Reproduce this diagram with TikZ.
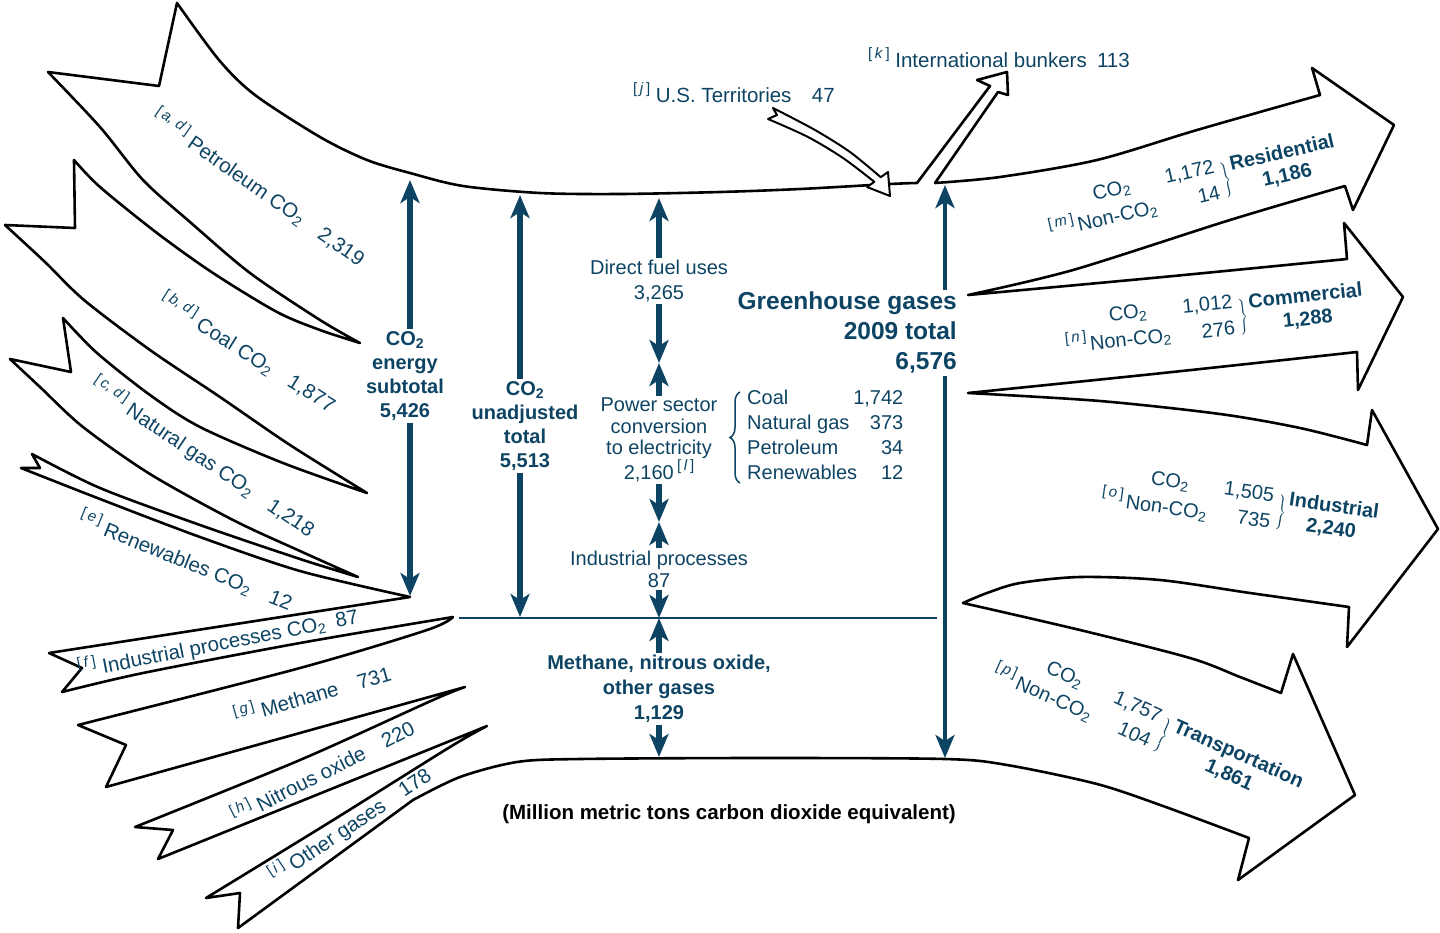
\documentclass[tikz,border=0pt]{standalone}
\usepackage{fontspec}
\setmainfont{Liberation Sans}
\usetikzlibrary{arrows.meta,decorations.pathreplacing}
\definecolor{ink}{HTML}{0E4463}
\newcommand\fn[1]{\raisebox{0.45em}{\fontsize{15}{15}\selectfont[\,\textit{#1}\,]}}
\newcommand\cotwo{CO\textsubscript{2}}
\newcommand\sectorlbl[5]{%
  \begin{tabular}{@{}r@{\hspace{3pt}}c@{\hspace{14pt}}r@{}}
    & \cotwo & #2\\
    \fn{#1} & Non-\cotwo & #3
  \end{tabular}%
  \hspace{4pt}{\fontsize{16}{20}\selectfont$\left.\rule[-13pt]{0pt}{32pt}\right\}$}\hspace{2pt}%
  \begin{tabular}{@{}c@{}}\bfseries #4\\ \bfseries #5\end{tabular}}
\begin{document}
\begin{tikzpicture}[x=1pt,y=-1pt,
  outline/.style={line width=2.6pt,line join=round,line cap=round,black},
  flowarrow/.style={line width=6.5pt,ink,-{Stealth[length=23pt,width=19pt,inset=6pt]}},
  ghgarrow/.style={line width=4.5pt,ink,-{Stealth[length=23pt,width=19pt,inset=6pt]}},
  lbl/.style={text=ink,inner sep=0pt,font=\fontsize{20.5}{24}\selectfont},
  blbl/.style={text=ink,inner sep=2pt,align=center,font=\fontsize{20}{24}\bfseries\selectfont},
  clbl/.style={text=ink,inner sep=2pt,align=center,font=\fontsize{20}{22}\selectfont},
  sec/.style={text=ink,inner sep=0pt,font=\fontsize{20}{23}\selectfont},
  sm/.style={smooth,tension=0.5}
]
\useasboundingbox (0,0) rectangle (1440,932);

% ---------- main flow outline ----------
\draw[outline] (48,72) -- (159,86) -- (177,3)
  -- plot[sm] coordinates {(177,3) (219,60) (255,95) (320,137) (367,160) (410,173) (463,186) (540,193) (620,194) (720,192) (800,189) (890,184) (917,183)}
  -- (990,86) -- (977,80) -- (1007,72) -- (1008,95) -- (998,92) -- (935,183)
  -- plot[sm] coordinates {(935,183) (1000,177) (1097,160) (1197,130) (1320,95)}
  -- (1312,68) -- (1394,125) -- (1353,210) -- (1345,186)
  -- plot[sm] coordinates {(1345,186) (1230,220) (1073,270) (968,295)}
  -- plot[sm] coordinates {(968,295) (1163,277) (1347,259)}
  -- (1344,223) -- (1403,297) -- (1358,390) -- (1357,352)
  -- plot[sm] coordinates {(1357,352) (1163,373) (968,393)}
  -- plot[sm] coordinates {(968,393) (1100,401) (1220,414) (1300,428) (1367,445)}
  -- (1372,410) -- (1438,529) -- (1347,647) -- (1349,607)
  -- plot[sm] coordinates {(1349,607) (1250,593) (1160,580) (1080,577) (1020,583) (987,593) (963,603)}
  -- plot[sm] coordinates {(963,603) (1080,630) (1190,658) (1240,677) (1281,693)}
  -- (1293,654) -- (1355,795) -- (1238,880) -- (1249,838)
  -- plot[sm] coordinates {(1249,838) (1163,806) (1097,784) (1007,765) (945,759) (760,758) (580,759) (517,762) (460,777) (413,800)}
  -- (238,928) -- (240,893) -- (206,898)
  -- plot[sm] coordinates {(206,898) (330,822) (450,747) (487,726)}
  -- (158,859) -- (173,830) -- (135,827)
  -- plot[sm] coordinates {(135,827) (300,760) (433,700) (465,687)}
  -- (106,787) -- (126,745) -- (78,725)
  -- plot[sm] coordinates {(78,725) (300,668) (427,630) (453,617)}
  -- plot[sm] coordinates {(453,617) (300,643) (143,673) (62,692)}
  -- (82,668) -- (49,653) -- (410,597)
  -- plot[sm] coordinates {(410,597) (300,571) (200,537) (100,499) (21,468)}
  -- (40,468) -- (32,454)
  -- plot[sm] coordinates {(32,454) (100,488) (200,525) (300,559) (358,577)}
  -- plot[sm] coordinates {(358,577) (300,551) (233,520) (150,474) (83,427) (40,387) (10,359)}
  -- (71,372) -- (63,318)
  -- plot[sm] coordinates {(63,318) (97,353) (150,395) (200,427) (283,463) (367,493)}
  -- plot[sm] coordinates {(367,493) (290,445) (220,397) (150,350) (84,300) (45,262) (5,225)}
  -- (75,228) -- (74,160)
  -- plot[sm] coordinates {(74,160) (100,187) (157,233) (213,273) (277,312) (320,330) (360,343)}
  -- plot[sm] coordinates {(360,343) (320,320) (250,273) (190,222) (143,180) (100,127) (48,72)}
  -- cycle;

% U.S. Territories hollow arrow
\draw[line width=2pt,line join=round,fill=white]
  plot[sm] coordinates {(773,108) (815,130) (850,152) (880.7,177.2)}
  -- (888,172) -- (890,196) -- (867,187) -- (874.3,181.8)
  -- plot[sm] coordinates {(874.3,181.8) (843,158) (808,137) (768,119)}
  -- (777,115) -- cycle;

% ---------- labels on input arrows ----------
\node[lbl,rotate=-35] (pet) at (259,187) {\fn{a, d} Petroleum \cotwo\quad 2,319};
\node[lbl,rotate=-32] (coal) at (248,352) {\fn{b, d} Coal \cotwo\quad 1,877};
\node[lbl,rotate=-34] (ng) at (203,457) {\fn{c, d} Natural gas \cotwo\quad 1,218};
\node[lbl,rotate=-22] (ren) at (186,560) {\fn{e} Renewables \cotwo\quad 12};
\node[lbl,rotate=11] (ipc) at (218,643) {\fn{f} Industrial processes \cotwo\enspace 87};
\node[lbl,rotate=16] (mth) at (312,693) {\fn{g} Methane\quad 731};
\node[lbl,rotate=27] (nox) at (322,770) {\fn{h} Nitrous oxide\quad 220};
\node[lbl,rotate=34] (oth) at (350,825) {\fn{i} Other gases\quad 178};

\node[lbl] (ust) at (734,93) {\fn{j} U.S. Territories\quad 47};
\node[lbl] (ib) at (999,58) {\fn{k} International bunkers\enspace 113};

% ---------- totals ----------
\coordinate (eTop) at (410,180); \coordinate (eBot) at (410,596);
\coordinate (uTop) at (520,195); \coordinate (uBot) at (520,617);
\coordinate (c1) at (659,198); \coordinate (c2) at (659,363);
\coordinate (c3) at (659,522); \coordinate (c4) at (659,618);
\coordinate (c5) at (659,757);
\coordinate (gTop) at (945,185); \coordinate (gBot) at (945,758);

\node[blbl] (e) at (405,376) {\cotwo\\energy\\subtotal\\5,426};
\node[blbl] (u) at (525,426) {\cotwo\\unadjusted\\total\\5,513};
\node[clbl,font=\fontsize{20}{25}\selectfont] (dfu) at (659,281) {Direct fuel uses\\3,265};
\node[clbl,font=\fontsize{20}{21.5}\selectfont] (pow) at (659,440) {Power sector\\conversion\\to electricity\\2,160\,\fn{l}};
\node[clbl] (ind) at (659,569) {Industrial processes\\87};
\node[blbl,font=\fontsize{20}{25}\bfseries\selectfont] (meth) at (659,689) {Methane, nitrous oxide,\\other gases\\1,129};
\node[blbl,align=right,anchor=east,font=\fontsize{24.5}{30}\bfseries\selectfont] (ghg) at (959,333) {Greenhouse gases\\2009 total\\6,576};

\node[text=ink,inner sep=0pt,anchor=west,font=\fontsize{20}{25}\selectfont] (list) at (747,437)
  {\begin{tabular}{@{}l@{\hspace{-4pt}}r@{}}Coal&1,742\\Natural gas&373\\Petroleum&34\\Renewables&12\end{tabular}};
\draw[ink,line width=1.5pt,decorate,decoration={brace,amplitude=10pt}] (740,483) -- (740,392);

\draw[flowarrow] (e.north -| eTop) -- (eTop);
\draw[flowarrow] (e.south -| eBot) -- (eBot);
\draw[flowarrow] (u.north -| uTop) -- (uTop);
\draw[flowarrow] (u.south -| uBot) -- (uBot);
\draw[flowarrow] (dfu.north) -- (c1);
\draw[flowarrow] (dfu.south) -- (c2);
\draw[flowarrow] (pow.north) -- (c2);
\draw[flowarrow] (pow.south) -- (c3);
\draw[flowarrow] (ind.north) -- (c3);
\draw[flowarrow] (ind.south) -- (c4);
\draw[flowarrow] (meth.north) -- (c4);
\draw[flowarrow] (meth.south) -- (c5);
\draw[ghgarrow] (ghg.north -| gTop) -- (gTop);
\draw[ghgarrow] (ghg.south -| gBot) -- (gBot);

\coordinate (hL) at (459,618); \coordinate (hR) at (937,618);
\draw[ink,line width=2.5pt] (hL) -- (hR);

% ---------- sector labels ----------
\node[sec,rotate=13] (res) at (1192,187) {\sectorlbl{m}{1,172}{14}{Residential}{1,186}};
\node[sec,rotate=6] (com) at (1214,319) {\sectorlbl{n}{1,012}{276}{Commercial}{1,288}};
\node[sec,rotate=-8] (indl) at (1240,506) {\sectorlbl{o}{1,505}{735}{Industrial}{2,240}};
\node[sec,rotate=-24] (tra) at (1148,728) {\sectorlbl{p}{1,757}{104}{Transportation}{1,861}};

\node[inner sep=0pt,font=\fontsize{20.5}{23}\bfseries\selectfont] (unit) at (729,814) {(Million metric tons carbon dioxide equivalent)};
\end{tikzpicture}
\end{document}
